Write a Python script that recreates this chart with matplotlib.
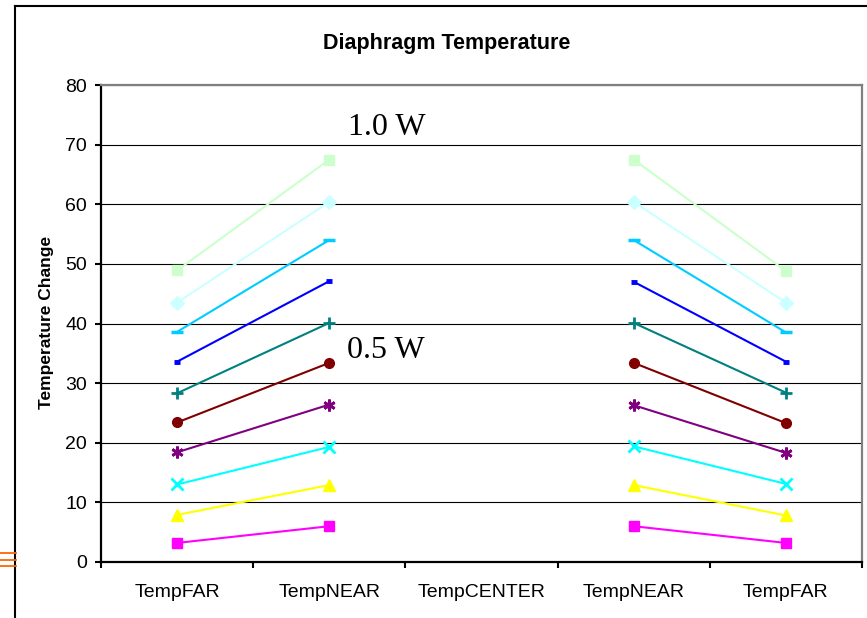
import numpy as np
import matplotlib.pyplot as plt
from matplotlib.lines import Line2D

categories = ['TempFAR', 'TempNEAR', 'TempCENTER', 'TempNEAR', 'TempFAR']

# temperature change per series: FAR, NEAR, CENTER (none), NEAR, FAR
s1 = [3.2, 6.0, np.nan, 6.0, 3.2]
s2 = [7.9, 12.9, np.nan, 12.9, 7.8]
s3 = [13.0, 19.3, np.nan, 19.4, 13.1]
s4 = [18.4, 26.4, np.nan, 26.3, 18.3]
s5 = [23.4, 33.4, np.nan, 33.4, 23.3]
s6 = [28.3, 40.1, np.nan, 40.1, 28.4]
s7 = [33.6, 47.1, np.nan, 47.0, 33.6]
s8 = [38.6, 54.0, np.nan, 54.0, 38.5]
s9 = [43.5, 60.4, np.nan, 60.4, 43.5]
s10 = [48.9, 67.5, np.nan, 67.5, 48.8]

series = [s1, s2, s3, s4, s5, s6, s7, s8, s9, s10]
colors = ['#FF00FF', '#FFFF00', '#00FFFF', '#800080', '#800000',
          '#008080', '#0000FF', '#00CCFF', '#CCFFFF', '#CCFFCC']
markers = ['s', '^', 'x', (6, 2, 0), 'o', '+', '_', '_', 'D', 's']
msizes = [6.5, 8, 8, 8.5, 7, 9, 5, 9, 7, 7.5]
mews = [1, 1, 2, 2, 1, 2, 3.5, 2.5, 1, 1]

plt.rcParams['font.family'] = ['Liberation Sans', 'DejaVu Sans']

fig = plt.figure(figsize=(8.67, 6.18), dpi=100)
ax = fig.add_axes([101/867, 56/618, 761/867, 477/618])

x = np.arange(len(categories))
for vals, c, m, ms, mew in zip(series, colors, markers, msizes, mews):
    ax.plot(x, vals, color=c, lw=1.5, marker=m, markersize=ms,
            markeredgewidth=mew, markerfacecolor=c, markeredgecolor=c,
            zorder=3)

ax.set_xlim(-0.5, 4.5)
ax.set_ylim(0, 80)
ax.set_yticks(np.arange(0, 81, 10))
ax.yaxis.grid(True, color='black', lw=0.8)
ax.set_axisbelow(True)

ax.set_xticks(np.arange(-0.5, 4.6, 1))
ax.set_xticklabels([])
ax.set_xticks(x, minor=True)
ax.set_xticklabels(categories, minor=True, fontsize=14)
ax.tick_params(axis='x', which='minor', length=0, pad=16)
ax.tick_params(axis='x', which='major', direction='out', length=4, width=1.5)
ax.tick_params(axis='y', direction='out', length=4, width=1.5, labelsize=14, pad=6)

for side in ['left', 'bottom']:
    ax.spines[side].set_color('black')
    ax.spines[side].set_linewidth(1.6)
for side in ['top', 'right']:
    ax.spines[side].set_color('#808080')
    ax.spines[side].set_linewidth(1.6)

ax.text(1.123, 71.6, '1.0 W', fontsize=23, family='Liberation Serif', va='baseline')
ax.text(1.116, 34.2, '0.5 W', fontsize=23, family='Liberation Serif', va='baseline')

fig.text(447/867, 1 - 43/618, 'Diaphragm Temperature', ha='center', va='center',
         fontsize=15.5, fontweight='bold')
fig.text(47/867, 1 - 322/618, 'Temperature Change', ha='center', va='center',
         rotation=90, fontsize=12.5, fontweight='bold')

# outer frame
fig.add_artist(Line2D([15/867, 15/867], [0, 1 - 6/618], color='black', lw=1.5))
fig.add_artist(Line2D([15/867, 1], [1 - 6/618, 1 - 6/618], color='black', lw=1.5))
# small orange mark at the left edge
for yy in [552.5, 559.5, 566]:
    fig.add_artist(Line2D([0, 16/867], [1 - yy/618, 1 - yy/618], color='#FF6600', lw=1.3))

fig.savefig('out.png', dpi=100)
